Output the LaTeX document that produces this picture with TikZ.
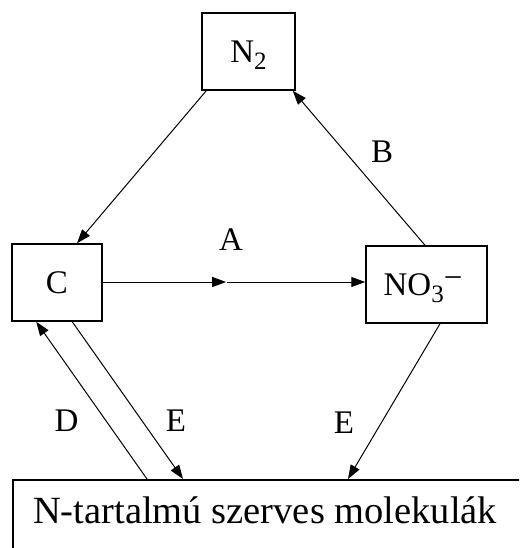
\documentclass[tikz,border=0pt]{standalone}
\usepackage{fontspec}
\setmainfont{Liberation Serif}
\usetikzlibrary{arrows.meta,calc}
\newcommand{\mysub}[1]{\smash{\raisebox{-7pt}{\fontsize{25}{25}\selectfont #1}}}
\newcommand{\mysup}[1]{\smash{\raisebox{7pt}{#1}}}
\begin{document}
\begin{tikzpicture}[x=1pt,y=-1pt,
  box/.style={draw,line width=1.5pt,inner sep=0pt},
  conn/.style={line width=1pt,-{Triangle[length=14pt,width=10pt]}},
  lab/.style={inner sep=0pt,font=\fontsize{33}{36}\selectfont},
  txt/.style={inner sep=0pt,font=\fontsize{33}{36}\selectfont}]
\clip (0,0) rectangle (519,548);
\fill[white] (0,0) rectangle (519,548);
% boxes
\node[box,minimum width=93pt,minimum height=77pt,txt] (N2) at (248.5,51.5) {N\mysub{2}};
\node[box,minimum width=90pt,minimum height=77pt,txt] (C) at (57,282.5) {C};
\node[box,minimum width=121pt,minimum height=77pt,txt] (NO3) at (426.5,284.5) {\hspace*{-7pt}NO\mysub{3}\mysup{−}};
\node[box,minimum width=540pt,minimum height=120pt,anchor=north west] (M) at (12,479) {};
\node[inner sep=0pt,font=\fontsize{38.5}{40}\selectfont,anchor=base west] (Mt) at ($(M.north west)+(21,44)$) {N-tartalmú szerves molekulák};
% connectors
\coordinate (mid) at ($(C.east)!0.47!(C.east -| NO3.west)$);
\draw[conn] ($(N2.south west)+(5,0)$) -- ($(C.north)+(20,0)$);
\draw[conn] ($(NO3.north)+(-1.5,0)$) -- ($(N2.south east)+(-3,0)$);
\draw[conn] ($(C.east)+(0,-0.5)$) -- ($(mid)+(0,-0.5)$);
\draw[conn] ($(mid)+(1,-0.5)$) -- ($(C.east -| NO3.west)+(0,-0.5)$);
\draw[conn] ($(M.north west)+(135,0)$) -- ($(C.south west)+(25,0)$);
\draw[conn] ($(C.south west)+(61,0)$) -- ($(M.north west)+(171,0)$);
\draw[conn] ($(NO3.south)+(13.5,0)$) -- ($(M.north west)+(336,0)$);
% labels
\node[lab] (lA) at (231,240) {A};
\node[lab] (lB) at (382,152) {B};
\node[lab] (lD) at (66.5,421) {D};
\node[lab] (lE1) at (176,421) {E};
\node[lab] (lE2) at (344,423) {E};
\end{tikzpicture}
\end{document}
